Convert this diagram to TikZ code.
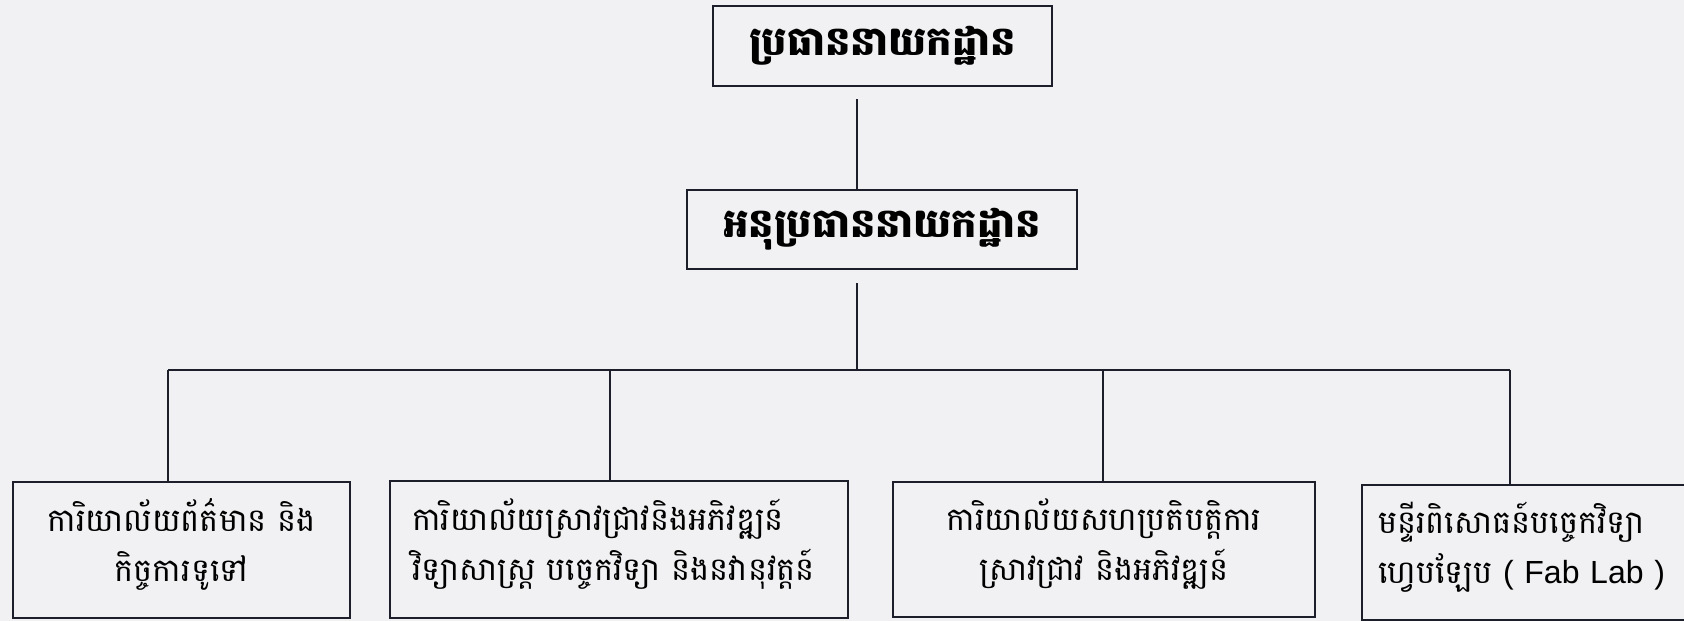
\documentclass[tikz,border=0pt]{standalone}
\usepackage{fontspec}
\setmainfont{Liberation Sans}
\newfontfamily\khmer[Script=Khmer]{Battambang}
\definecolor{paper}{RGB}{241,241,243}
\definecolor{ink}{RGB}{28,30,42}
\tikzset{
	box/.style={draw=ink, line width=2.4pt, fill=paper, inner sep=0pt,
		font=\khmer\fontsize{32}{50}\selectfont},
	officebox/.style={box, text depth=70pt},
	headbox/.style={box, font=\khmer\bfseries\fontsize{40}{46}\selectfont},
	link/.style={draw=ink, line width=1.7pt},
}
\begin{document}
\begin{tikzpicture}[x=1pt,y=-1pt]
	\fill[paper] (0,0) rectangle (1684,621);
	\useasboundingbox (0,0) rectangle (1684,621);
	\clip (0,0) rectangle (1684,621);
	% top of the chart
	\node[headbox, minimum width=339pt, minimum height=80pt] (head) at (882.5,46) {ប្រធាននាយកដ្ឋាន};
	\node[headbox, minimum width=390pt, minimum height=79pt] (deputy) at (882,229.5) {អនុប្រធាននាយកដ្ឋាន};
	% offices
	\node[officebox, minimum width=337pt, minimum height=136pt, text width=300pt, align=center] (info) at (181.5,550) {ការិយាល័យព័ត៌មាន និង\\កិច្ចការទូទៅ};
	\node[officebox, minimum width=458pt, minimum height=137pt, text width=414pt, align=left] (research) at (619,549.5) {ការិយាល័យស្រាវជ្រាវនិងអភិវឌ្ឍន៍\\វិទ្យាសាស្ត្រ បច្ចេកវិទ្យា និងនវានុវត្តន៍};
	\node[officebox, minimum width=422pt, minimum height=135pt, text width=380pt, align=center] (coop) at (1104,549.5) {ការិយាល័យសហប្រតិបត្តិការ\\ស្រាវជ្រាវ និងអភិវឌ្ឍន៍};
	\node[officebox, minimum width=338pt, minimum height=135pt, text width=306pt, align=left] (fablab) at (1531,552.5) {មន្ទីរពិសោធន៍បច្ចេកវិទ្យា\\ហ្វេបឡែប {\rmfamily ( Fab Lab )}};
	% connectors
	\coordinate (trunk) at (857,370);
	\coordinate (b1) at (168,370);
	\coordinate (b2) at (610,370);
	\coordinate (b3) at (1103,370);
	\coordinate (b4) at (1510,370);
	\draw[link, shorten <=12pt] (head.south -| trunk) -- (deputy.north -| trunk);
	\draw[link, shorten <=13pt] (deputy.south -| trunk) -- (trunk);
	\draw[link] (b1) -- (b4);
	\draw[link] (b1) -- (b1 |- info.north);
	\draw[link] (b2) -- (b2 |- research.north);
	\draw[link] (b3) -- (b3 |- coop.north);
	\draw[link] (b4) -- (b4 |- fablab.north);
\end{tikzpicture}
\end{document}
